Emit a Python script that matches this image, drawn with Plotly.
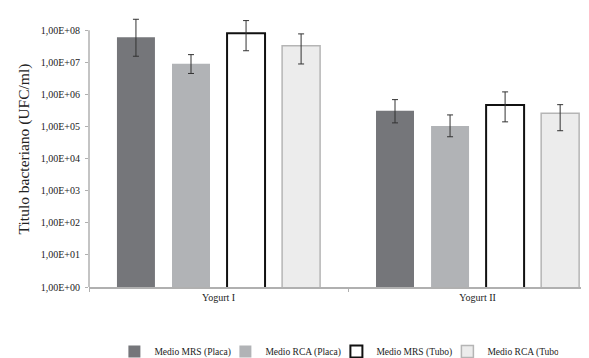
import plotly.graph_objects as go

categories = ["Yogurt I", "Yogurt II"]
series_names = ["Medio MRS (Placa)", "Medio RCA (Placa)", "Medio MRS (Tubo)", "Medio RCA (Tubo)"]
values = [
    [6.1e7, 3.1e5],
    [9.1e6, 1.04e5],
    [8.1e7, 4.7e5],
    [3.3e7, 2.6e5],
]
err_high = [
    [2.2e8, 6.9e5],
    [1.74e7, 2.3e5],
    [2.0e8, 1.2e6],
    [7.7e7, 4.8e5],
]
err_low = [
    [1.55e7, 1.3e5],
    [4.5e6, 4.8e4],
    [2.3e7, 1.4e5],
    [8.9e6, 7.4e4],
]
tick_vals = [10 ** k for k in range(0, 9)]
tick_text = ["1,00E+%02d" % k for k in range(0, 9)]

fill_colors = ["#75767a", "#b1b3b6", "#ffffff", "#ececec"]
line_colors = ["#75767a", "#b1b3b6", "#111111", "#b5b5b5"]
line_widths = [0, 0, 2, 1.5]

fig = go.Figure()
for i, name in enumerate(series_names):
    fig.add_trace(go.Bar(
        x=categories,
        y=values[i],
        name=name,
        marker=dict(color=fill_colors[i], line=dict(color=line_colors[i], width=line_widths[i])),
        error_y=dict(
            type="data", symmetric=False,
            array=[h - v for h, v in zip(err_high[i], values[i])],
            arrayminus=[v - l for l, v in zip(err_low[i], values[i])],
            color="#333333", thickness=1, width=3,
        ),
    ))

font_family = "Liberation Serif"
fig.update_layout(
    width=589, height=358,
    margin=dict(l=81, r=0, t=3, b=76),
    paper_bgcolor="white", plot_bgcolor="white",
    barmode="group", bargap=0.15, bargroupgap=0.31,
    font=dict(family=font_family, size=10, color="#222222"),
    showlegend=True,
    legend=dict(
        orientation="h", x=0.05, xanchor="left", y=-0.235, yanchor="middle",
        font=dict(family=font_family, size=9.5, color="#222222"),
        itemwidth=30, traceorder="normal", entrywidth=66,
    ),
    xaxis=dict(
        type="category", range=[-0.5, 1.461],
        showline=True, linecolor="#b0b0b0", linewidth=1.5,
        ticks="outside", tickson="boundaries", ticklen=3, tickcolor="#b0b0b0",
        showgrid=False, tickfont=dict(family=font_family, size=10, color="#222222"),
    ),
    yaxis=dict(
        type="log", range=[0, 8.6], automargin=False,
        tickvals=tick_vals, ticktext=tick_text,
        showline=False, showgrid=False, zeroline=False,
        ticks="outside", ticklen=3, tickcolor="#b0b0b0", ticklabelstandoff=3,
        tickfont=dict(family=font_family, size=10, color="#222222"),
        title=dict(text="Titulo bacteriano (UFC/ml)", standoff=7,
                   font=dict(family=font_family, size=15.5, color="#222222")),
    ),
)
fig.add_shape(type="line", xref="paper", yref="y", x0=0, x1=0, y0=1, y1=1e8,
              line=dict(color="#b0b0b0", width=1.5))

fig.write_html("out.html")
